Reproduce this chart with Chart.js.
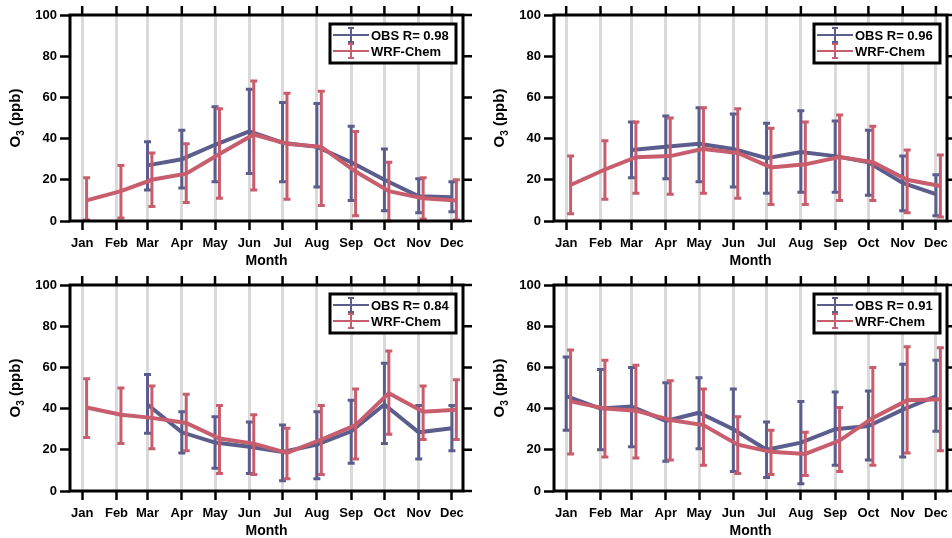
<!DOCTYPE html>
<html>
<head>
<meta charset="utf-8">
<script src="https://cdn.jsdelivr.net/npm/chart.js@4.4.1/dist/chart.umd.min.js"></script>
<style>
  body { margin: 0; background: #fff; width: 952px; height: 538px; overflow: hidden; position: relative; }
  .panel { position: absolute; width: 484px; height: 270px; }
</style>
</head>
<body>
<div class="panel" style="left:0;top:0"><canvas id="panelA" width="484" height="270"></canvas></div>
<div class="panel" style="left:484px;top:0"><canvas id="panelB" width="484" height="270"></canvas></div>
<div class="panel" style="left:0;top:270px"><canvas id="panelC" width="484" height="270"></canvas></div>
<div class="panel" style="left:484px;top:270px"><canvas id="panelD" width="484" height="270"></canvas></div>
<script>
const months = ["Jan", "Feb", "Mar", "Apr", "May", "Jun", "Jul", "Aug", "Sep", "Oct", "Nov", "Dec"];
// day of year at the start of each month
const monthDays = [0, 31, 59, 90, 120, 151, 181, 212, 243, 273, 304, 334];
const yTicks = [0, 20, 40, 60, 80, 100];

// top left
const obsA = [null, null, 27, 30, 37, 43.5, 38, 36, 28.5, 20, 12, 11.5];
const obsLoA = [null, null, 15, 16, 19, 23, 19, 16.5, 10, 5, 4, 4.5];
const obsHiA = [null, null, 38.5, 44, 55.5, 64, 57.5, 57, 46, 35, 20.5, 19];
const wrfA = [10, 14.5, 20, 23, 32.5, 42, 37.5, 36, 24, 14.5, 11, 10];
const wrfLoA = [0.5, 1.5, 7, 9, 11, 15, 10.5, 7.5, 2.5, 0, 1, 0.5];
const wrfHiA = [21, 27, 33, 37.5, 54.5, 68, 62, 63, 43.5, 28.5, 21, 20];

// top right
const obsB = [null, null, 34.5, 36, 37.5, 35, 30.5, 33.5, 31.5, 28.5, 18.5, 13];
const obsLoB = [null, null, 21, 20.5, 19, 16.5, 13.5, 14, 14, 12.5, 5, 2.5];
const obsHiB = [null, null, 48, 51, 55, 52, 47.5, 53.5, 48.5, 44, 31.5, 22.5];
const wrfB = [17.5, 25, 31, 31.5, 35, 33, 26, 27.5, 31, 28.5, 20, 17];
const wrfLoB = [3.5, 10.5, 13.5, 13, 13.5, 11, 8, 8, 10, 10, 4, 2];
const wrfHiB = [31.5, 39, 48, 50, 55, 54.5, 45, 48, 51.5, 46, 34.5, 32];

// bottom left
const obsC = [null, null, 42, 28.5, 23.5, 21.5, 19, 22.5, 29, 42, 28.5, 30.5];
const obsLoC = [null, null, 28, 18.5, 11, 8.5, 5, 6, 13.5, 23, 15.5, 19.5];
const obsHiC = [null, null, 56.5, 38.5, 36, 33.5, 32, 38.5, 44, 62, 41.5, 41.5];
const wrfC = [40.5, 37, 35.5, 33, 25.5, 23, 18.5, 25, 32, 47.5, 38.5, 39.5];
const wrfLoC = [26, 23, 20.5, 19.5, 8.5, 8, 6, 8, 15.5, 27.5, 25, 25];
const wrfHiC = [54.5, 50, 51, 47, 41.5, 37, 30.5, 41.5, 49.5, 68, 51, 54];

// bottom right
const obsD = [46, 40, 41, 34, 38, 30, 20, 23.5, 30, 31.5, 39.5, 46];
const obsLoD = [29.5, 20, 21.5, 14.5, 20.5, 9.5, 6.5, 3.5, 12.5, 15, 16.5, 29];
const obsHiD = [65, 59, 60, 52.5, 55, 49.5, 33.5, 43.5, 48, 48.5, 61.5, 63.5];
const wrfD = [43.5, 40, 39, 34.5, 32, 22.5, 19, 18, 24.5, 35.5, 44, 44.5];
const wrfLoD = [18, 16.5, 16, 15, 12.5, 8.5, 8, 7.5, 9.5, 12.5, 18.5, 19.5];
const wrfHiD = [68.5, 63.5, 61, 53.5, 49.5, 36, 29.5, 28.5, 40.5, 60, 70, 69.5];

const panelR = ["0.98", "0.96", "0.84", "0.91"];

const OBS_COLOR = "#5b5e8c";
const WRF_COLOR = "#c75d6d";
const FONT = "'Liberation Sans', Arial, sans-serif";

// error bars under each dataset's line
const errorBars = {
  id: "errorBars",
  beforeDatasetDraw(chart, args) {
    const ds = chart.data.datasets[args.index];
    const y = chart.scales.y;
    const ctx = chart.ctx;
    ctx.save();
    ctx.strokeStyle = ds.borderColor;
    ctx.lineWidth = 3;
    args.meta.data.forEach((pt, i) => {
      if (ds.errLow[i] == null) return;
      const top = y.getPixelForValue(ds.errHigh[i]);
      const bot = y.getPixelForValue(ds.errLow[i]);
      ctx.beginPath();
      ctx.moveTo(pt.x, top);
      ctx.lineTo(pt.x, bot);
      ctx.moveTo(pt.x - 3.5, top);
      ctx.lineTo(pt.x + 3.5, top);
      ctx.moveTo(pt.x - 3.5, bot);
      ctx.lineTo(pt.x + 3.5, bot);
      ctx.stroke();
    });
    ctx.restore();
  },
};

// box frame with mirrored ticks on top and right
const frameBox = {
  id: "frameBox",
  afterDatasetsDraw(chart) {
    const { left, right, top, bottom } = chart.chartArea;
    const ctx = chart.ctx;
    ctx.save();
    ctx.strokeStyle = "#000";
    ctx.lineWidth = 3;
    ctx.strokeRect(left, top, right - left, bottom - top);
    ctx.lineWidth = 2.5;
    ctx.beginPath();
    chart.scales.x.ticks.forEach((t) => {
      const px = chart.scales.x.getPixelForValue(t.value);
      ctx.moveTo(px, top);
      ctx.lineTo(px, top - 9);
    });
    chart.scales.y.ticks.forEach((t) => {
      const py = chart.scales.y.getPixelForValue(t.value);
      ctx.moveTo(right, py);
      ctx.lineTo(right + 9, py);
    });
    ctx.stroke();
    ctx.restore();
  },
};

// y title with subscript
const yTitle = {
  id: "yTitle",
  afterDraw(chart) {
    const { top, bottom } = chart.chartArea;
    const ctx = chart.ctx;
    const big = "bold 15px " + FONT;
    const small = "bold 10px " + FONT;
    ctx.save();
    ctx.translate(16, (top + bottom) / 2);
    ctx.rotate(-Math.PI / 2);
    ctx.fillStyle = "#000";
    ctx.textBaseline = "middle";
    ctx.font = big;
    const w1 = ctx.measureText("O").width;
    const w3 = ctx.measureText(" (ppb)").width;
    ctx.font = small;
    const w2 = ctx.measureText("3").width;
    let x = -(w1 + w2 + w3) / 2;
    ctx.font = big;
    ctx.fillText("O", x, 0);
    x += w1;
    ctx.font = small;
    ctx.fillText("3", x, 5);
    x += w2;
    ctx.font = big;
    ctx.fillText(" (ppb)", x, 0);
    ctx.restore();
  },
};

// legend box in the top right corner
const legendBox = {
  id: "legendBox",
  afterDraw(chart) {
    const { right, top } = chart.chartArea;
    const ctx = chart.ctx;
    const bx = right - 133;
    const by = top + 9;
    ctx.save();
    ctx.fillStyle = "#fff";
    ctx.fillRect(bx, by, 126, 39);
    ctx.strokeStyle = "#000";
    ctx.lineWidth = 3;
    ctx.strokeRect(bx, by, 126, 39);
    chart.data.datasets
      .slice()
      .sort((a, b) => a.legendRow - b.legendRow)
      .forEach((ds, i) => {
        const ly = by + 11 + i * 16;
        const cx = bx + 21;
        ctx.strokeStyle = ds.borderColor;
        ctx.lineWidth = 2;
        ctx.beginPath();
        ctx.moveTo(bx + 3, ly);
        ctx.lineTo(bx + 39, ly);
        ctx.moveTo(cx, ly - 7);
        ctx.lineTo(cx, ly + 7);
        ctx.moveTo(cx - 3, ly - 7);
        ctx.lineTo(cx + 3, ly - 7);
        ctx.moveTo(cx - 3, ly + 7);
        ctx.lineTo(cx + 3, ly + 7);
        ctx.stroke();
        ctx.fillStyle = "#000";
        ctx.font = "bold 13px " + FONT;
        ctx.textBaseline = "middle";
        ctx.fillText(ds.label, bx + 41, ly + 1);
      });
    ctx.restore();
  },
};

function toPoints(values, shift) {
  return values.map((v, i) => ({ x: monthDays[i] + shift, y: v }));
}

function makePanel(id, obs, obsLo, obsHi, wrf, wrfLo, wrfHi, r) {
  new Chart(document.getElementById(id), {
    type: "line",
    data: {
      datasets: [
        {
          label: "OBS R= " + r,
          data: toPoints(obs, 0),
          errLow: obsLo,
          errHigh: obsHi,
          borderColor: OBS_COLOR,
          borderWidth: 4,
          pointRadius: 0,
          tension: 0,
          order: 1,
          legendRow: 0,
        },
        {
          label: "WRF-Chem",
          data: toPoints(wrf, 4),
          errLow: wrfLo,
          errHigh: wrfHi,
          borderColor: WRF_COLOR,
          borderWidth: 4,
          pointRadius: 0,
          tension: 0,
          order: 0,
          legendRow: 1,
        },
      ],
    },
    options: {
      responsive: false,
      animation: false,
      layout: { padding: { top: 15, right: 21, bottom: 0, left: 0 } },
      plugins: { legend: { display: false }, tooltip: { enabled: false } },
      scales: {
        x: {
          type: "linear",
          min: -11,
          max: 344,
          afterBuildTicks: (scale) => {
            scale.ticks = monthDays.map((d) => ({ value: d }));
          },
          afterFit: (scale) => {
            scale.height = 49;
          },
          ticks: {
            autoSkip: false,
            maxRotation: 0,
            padding: 6,
            color: "#000",
            font: { family: FONT, size: 13, weight: "bold" },
            callback: (value, index) => months[index],
          },
          grid: {
            color: "#dadada",
            lineWidth: 3,
            tickColor: "#000",
            tickWidth: 2.5,
            tickLength: 9,
          },
          border: { display: false },
          title: {
            display: true,
            text: "Month",
            color: "#000",
            padding: { top: 0, bottom: 0 },
            font: { family: FONT, size: 14, weight: "bold" },
          },
        },
        y: {
          min: 0,
          max: 100,
          afterBuildTicks: (scale) => {
            scale.ticks = yTicks.map((v) => ({ value: v }));
          },
          afterFit: (scale) => {
            scale.width = 70;
          },
          ticks: {
            padding: 3,
            color: "#000",
            font: { family: FONT, size: 13, weight: "bold" },
          },
          grid: {
            drawOnChartArea: false,
            tickColor: "#000",
            tickWidth: 2.5,
            tickLength: 10,
          },
          border: { display: false },
        },
      },
    },
    plugins: [errorBars, frameBox, yTitle, legendBox],
  });
}

makePanel("panelA", obsA, obsLoA, obsHiA, wrfA, wrfLoA, wrfHiA, panelR[0]);
makePanel("panelB", obsB, obsLoB, obsHiB, wrfB, wrfLoB, wrfHiB, panelR[1]);
makePanel("panelC", obsC, obsLoC, obsHiC, wrfC, wrfLoC, wrfHiC, panelR[2]);
makePanel("panelD", obsD, obsLoD, obsHiD, wrfD, wrfLoD, wrfHiD, panelR[3]);
</script>
</body>
</html>
